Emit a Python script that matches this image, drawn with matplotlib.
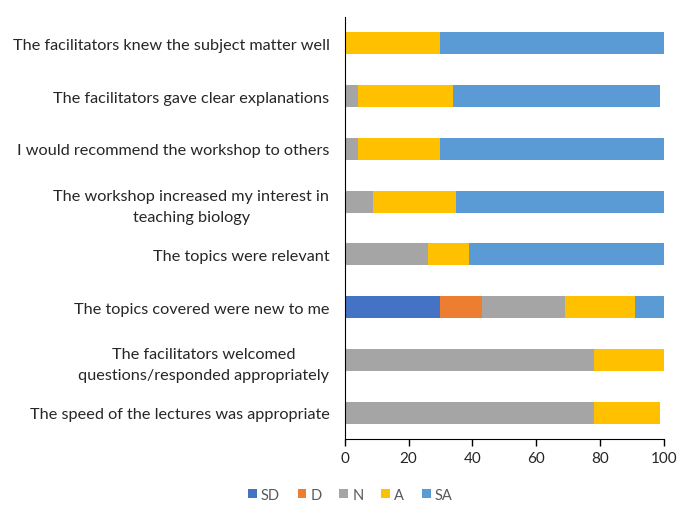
import matplotlib.pyplot as plt
import numpy as np

plt.rcParams['font.family'] = ['Lato', 'DejaVu Sans']

# Statements, top to bottom
statements = [
    'The facilitators knew the subject matter well',
    'The facilitators gave clear explanations',
    'I would recommend the workshop to others',
    'The workshop increased my interest in\nteaching biology',
    'The topics were relevant',
    'The topics covered were new to me',
    'The facilitators welcomed\nquestions/responded appropriately',
    'The speed of the lectures was appropriate',
]

# Percent of responses per category
sd = [0, 0, 0, 0, 0, 30, 0, 0]
d = [0, 0, 0, 0, 0, 13, 0, 0]
n = [0, 4, 4, 9, 26, 26, 78, 78]
a = [30, 30, 26, 26, 13, 22, 22, 21]
sa = [70, 65, 70, 65, 61, 9, 0, 0]

series = [('SD', sd, '#4472C4'), ('D', d, '#ED7D31'), ('N', n, '#A5A5A5'),
          ('A', a, '#FFC000'), ('SA', sa, '#5B9BD5')]

fig = plt.figure(figsize=(6.8, 5.1), dpi=100)
ax = fig.add_axes([0.507, 0.137, 0.469, 0.828])

y = np.arange(len(statements))[::-1]
left = np.zeros(len(statements))
for name, vals, color in series:
    ax.barh(y, vals, left=left, height=0.42, color=color, label=name)
    left += np.array(vals)

ax.set_ylim(-0.5, len(statements) - 0.5)
ax.set_xlim(0, 100)
ax.set_xticks(range(0, 101, 20))
ax.set_yticks(y)
ax.set_yticklabels(statements, ha='right', multialignment='center',
                   linespacing=1.6, fontsize=11.7, color='#262626')
ax.tick_params(axis='y', length=0, pad=11)
ax.tick_params(axis='x', direction='out', length=5, labelsize=11,
               labelcolor='#262626', width=1)

for s in ['top', 'right']:
    ax.spines[s].set_visible(False)
ax.spines['left'].set_color('black')
ax.spines['bottom'].set_color('black')

fig.legend(loc='lower center', bbox_to_anchor=(0.515, -0.012), ncol=5,
           frameon=False, fontsize=10.5, handlelength=0.6, handleheight=0.6,
           handletextpad=0.3, columnspacing=1.2, labelcolor='#595959')

fig.savefig('out.png', dpi=100)
